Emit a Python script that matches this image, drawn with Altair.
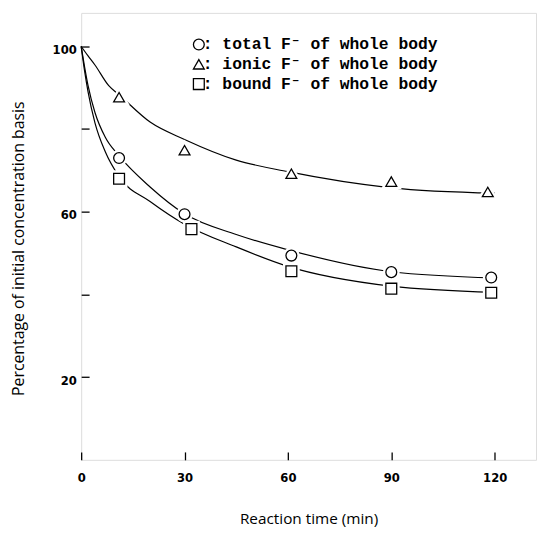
import altair as alt
import pandas as pd

# ---- data ----
series_names = ["total F\u207b of whole body", "ionic F\u207b of whole body", "bound F\u207b of whole body"]
series_shapes = ["circle", "triangle-up", "square"]

# measured points
pt_time_total = [11, 30, 61, 90, 119]
pt_total = [73.0, 59.4, 49.4, 45.4, 44.1]
pt_time_ionic = [11, 30, 61, 90, 118]
pt_ionic = [87.7, 74.9, 69.2, 67.3, 64.8]
pt_time_bound = [11, 32, 61, 90, 119]
pt_bound = [68.0, 55.8, 45.6, 41.4, 40.4]

# fitted curves
cv_time_total = [0, 1, 2, 4, 7, 11, 20, 30, 45, 60, 90, 120]
cv_total = [100, 95, 90.5, 84, 78, 73.5, 66, 59.5, 54.5, 50.8, 45.5, 44]
cv_time_ionic = [0, 2, 4, 8, 11, 20, 30, 45, 60, 90, 120]
cv_ionic = [100, 97.7, 95.5, 90.5, 88.3, 81.7, 77.5, 72.5, 69.7, 65.8, 64.5]
cv_time_bound = [0, 1, 2, 4, 7, 11, 20, 30, 45, 60, 90, 120]
cv_bound = [100, 94, 89, 81.5, 74.5, 68.5, 62.5, 57, 51.5, 46.8, 42, 40.5]

x_ticks = [0, 30, 60, 90, 120]
y_ticks = [20, 40, 60, 80, 100]

# ---- tables ----
pts = pd.concat([
    pd.DataFrame({"t": pt_time_total, "v": pt_total, "s": series_names[0]}),
    pd.DataFrame({"t": pt_time_ionic, "v": pt_ionic, "s": series_names[1]}),
    pd.DataFrame({"t": pt_time_bound, "v": pt_bound, "s": series_names[2]}),
])
cvs = pd.concat([
    pd.DataFrame({"t": cv_time_total, "v": cv_total, "s": series_names[0]}),
    pd.DataFrame({"t": cv_time_ionic, "v": cv_ionic, "s": series_names[1]}),
    pd.DataFrame({"t": cv_time_bound, "v": cv_bound, "s": series_names[2]}),
])
leg_df = pd.DataFrame({"s": series_names, "row": [0, 1, 2],
                       "label": [": " + n for n in series_names]})

num_font = "Liberation Sans Narrow, DejaVu Sans Condensed, Arial Narrow, Roboto, sans-serif"
title_font = "Open Sans, Lato, sans-serif"
mono_font = "Liberation Mono, DejaVu Sans Mono, monospace"

x_enc = alt.X("t:Q", scale=alt.Scale(domain=[0, 132.0], nice=False, zero=False),
              axis=alt.Axis(values=x_ticks, offset=-8, domain=False, tickSize=8,
                            tickColor="black", tickWidth=1.3, grid=False,
                            labelFont=num_font, labelFontSize=13, labelFontWeight="bold",
                            labelColor="black", labelPadding=12, labelFlush=False,
                            title="Reaction time (min)", titleFont=title_font,
                            titleFontSize=15.5, titleFontWeight="normal", titleColor="black",
                            titleY=67, titleBaseline="middle"))
y_enc = alt.Y("v:Q", scale=alt.Scale(domain=[0, 108.1], nice=False, zero=False),
              axis=alt.Axis(values=y_ticks, offset=-8, domain=False, tickSize=8,
                            tickColor="black", tickWidth=1.3, grid=False,
                            labelExpr="datum.value % 40 == 20 ? datum.label : ''",
                            labelFont=num_font, labelFontSize=13, labelFontWeight="bold",
                            labelColor="black", labelPadding=5, labelOffset=3, labelFlush=False,
                            title="Percentage of initial concentration basis",
                            titleFont=title_font, titleFontSize=16, titleFontWeight="normal",
                            titleColor="black", titleAngle=270, titleX=-71.5, titleY=238,
                            titleBaseline="middle", titleAlign="center"))

shape_scale = alt.Scale(domain=series_names, range=series_shapes)

lines = alt.Chart(cvs).mark_line(color="black", strokeWidth=1.2, interpolate="monotone").encode(
    x=x_enc, y=y_enc, detail="s:N", order="t:Q")

halo = alt.Chart(pts).mark_point(filled=True, fill="white", stroke="white", strokeWidth=6,
                                 size=120, opacity=1).encode(
    x=x_enc, y=y_enc, shape=alt.Shape("s:N", scale=shape_scale, legend=None))

marks = alt.Chart(pts).mark_point(filled=True, fill="white", stroke="black", strokeWidth=1.3,
                                  size=120, opacity=1).encode(
    x=x_enc, y=y_enc, shape=alt.Shape("s:N", scale=shape_scale, legend=None))

plot = alt.layer(lines, halo, marks)

# hand-built legend (symbol + ": label" rows)
leg_y = alt.Y("row:O", scale=alt.Scale(type="point", domain=[0, 1, 2], range=[32, 72], padding=0),
              axis=None)
leg_sym = alt.Chart(leg_df).mark_point(filled=True, fill="white", stroke="black", strokeWidth=1.3,
                                       size=120, opacity=1).encode(
    x=alt.value(119), y=leg_y, shape=alt.Shape("s:N", scale=shape_scale, legend=None))
leg_txt = alt.Chart(leg_df).mark_text(align="left", baseline="middle", font=mono_font,
                                      fontSize=16.5, fontWeight="bold", color="black").encode(
    x=alt.value(123), y=leg_y, text="label:N")

chart = alt.layer(plot, leg_sym, leg_txt).resolve_scale(y="independent").properties(
    width=460, height=452,
    padding={"left": 74, "top": 2, "right": 2, "bottom": 68},
    autosize=alt.AutoSizeParams(type="none"),
).configure_view(stroke="black", strokeWidth=1.6).configure(background="white")

chart.save("out.html", embed_options={"renderer": "svg", "actions": False})
